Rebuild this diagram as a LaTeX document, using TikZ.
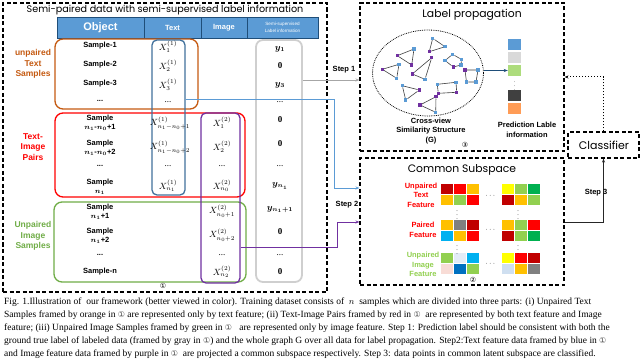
\documentclass[tikz,border=0pt]{standalone}
\usepackage{amsmath}
\usepackage{fontspec}
\setmainfont{Liberation Serif}
\newfontfamily\lsans{Liberation Sans}
\newfontfamily\pop{Poppins}
\newfontfamily\dv{DejaVu Sans}
\usetikzlibrary{shapes.geometric,arrows.meta}
\definecolor{hdrblue}{HTML}{5B9BD5}
\definecolor{hdrline}{HTML}{1F4E79}
\definecolor{oran}{HTML}{C55A11}
\definecolor{tblue}{HTML}{41719C}
\definecolor{ipurp}{HTML}{7030A0}
\definecolor{lgray}{HTML}{CFCFCF}
\definecolor{grn}{HTML}{70AD47}
\definecolor{lgrn}{HTML}{92D050}
\definecolor{lblue}{HTML}{5B9BD5}
\definecolor{cDR}{HTML}{C00000}
\definecolor{cR}{HTML}{FF0000}
\definecolor{cO}{HTML}{FFC000}
\definecolor{cLG}{HTML}{92D050}
\definecolor{cG}{HTML}{00B050}
\definecolor{cY}{HTML}{FFFF00}
\definecolor{cGy}{HTML}{808080}
\definecolor{cLB}{HTML}{00B0F0}
\definecolor{cB}{HTML}{0070C0}
\definecolor{cPB}{HTML}{E3ECF7}
\definecolor{cPk}{HTML}{F8DCD6}
\definecolor{cSB}{HTML}{CFDFF0}
\newcommand{\circnum}[1]{{\dv\fontsize{7}{7}\selectfont #1}}
\newcommand{\capcirc}[1]{{\dv\fontsize{8}{8}\selectfont\color{black!70} #1}}
\begin{document}
\begin{tikzpicture}[x=1pt,y=-1pt,
  dbox/.style={draw, line width=1.1pt, dash pattern=on 4pt off 2.5pt, inner sep=0pt},
  rbox/.style={draw, line width=1.3pt, rounded corners=8pt, inner sep=0pt},
  hcell/.style={draw=hdrline, fill=hdrblue, line width=0.8pt, inner sep=0pt, text=white, font=\lsans\bfseries, align=center},
  smp/.style={font=\lsans\bfseries\fontsize{7.5}{8.5}\selectfont, align=center, inner sep=0pt},
  mth/.style={font=\fontsize{9}{10}\selectfont, inner sep=0pt},
  side/.style={font=\lsans\bfseries\fontsize{8.5}{10.5}\selectfont, align=center, inner sep=0pt},
  stp/.style={font=\lsans\bfseries\fontsize{7.5}{8.5}\selectfont, inner sep=0pt},
  ttl/.style={font=\pop\fontsize{10.8}{12}\selectfont, inner sep=0pt},
  gpn/.style={rectangle, fill=ipurp, minimum size=3.2pt, inner sep=0pt},
  gbn/.style={rectangle, fill=lblue, minimum size=3.2pt, inner sep=0pt},
  ged/.style={draw=black!75, line width=0.6pt},
  sq/.style={minimum width=13pt, minimum height=11pt, inner sep=0pt},
  flab/.style={font=\lsans\bfseries\fontsize{7.5}{9.5}\selectfont, align=center, inner sep=0pt},
]
\useasboundingbox (0,0) rectangle (640,361);
\fill[white] (0,0) rectangle (640,361);

% ---------------- left panel ----------------
\node[dbox, minimum width=324pt, minimum height=289pt] (leftbox) at (165,147.5) {};
\node[font=\pop\fontsize{9.6}{11}\selectfont, inner sep=0pt] (lt) at (165,10) {Semi-paired data with semi-supervised label information};

\node[hcell, minimum width=87pt, minimum height=21pt, font=\lsans\bfseries\fontsize{11}{12}\selectfont] (hobj) at (100.5,27.5) {Object};
\node[hcell, minimum width=57pt, minimum height=21pt, font=\lsans\bfseries\fontsize{7.5}{8}\selectfont] (htxt) at (172.5,27.5) {Text};
\node[hcell, minimum width=46pt, minimum height=21pt, font=\lsans\bfseries\fontsize{7.5}{8}\selectfont] (himg) at (224,27.5) {Image};
\node[hcell, minimum width=71pt, minimum height=21pt, font=\lsans\fontsize{4.6}{7}\selectfont] (hlab) at (282.5,27.5) {Semi-supervised\\Label information};

% frames
\node[rbox, draw=oran, minimum width=143pt, minimum height=70pt] (obox) at (126.5,74) {};
\node[rbox, draw=cR, minimum width=190pt, minimum height=84pt] (rbx) at (150,155) {};
\node[rbox, draw=grn, minimum width=192pt, minimum height=80pt] (gbx) at (150,242) {};
\node[rbox, draw=tblue, minimum width=33pt, minimum height=155pt, rounded corners=5pt] (tbox) at (168.5,117.5) {};
\node[rbox, draw=ipurp, minimum width=39pt, minimum height=170pt, rounded corners=5pt] (pbox) at (220.5,198) {};
\node[rbox, draw=lgray, line width=1.8pt, minimum width=46pt, minimum height=242pt, rounded corners=7pt] (ybox) at (279,161) {};

% side labels
\node[side, text=oran] (s1l) at (33,64) {unpaired\\Text\\Samples};
\node[side, text=cR] (s2l) at (33,147) {Text-\\Image\\Pairs};
\node[side, text=grn] (s3l) at (33,236) {Unpaired\\Image\\Samples};

% object column
\node[smp] (o1) at (100,46) {Sample-1};
\node[smp] (o2) at (100,65) {Sample-2};
\node[smp] (o3) at (100,84) {Sample-3};
\node[smp] (o4) at (100,101) {...};
\node[smp] (o5) at (100,123) {Sample\\$\boldsymbol{n_1}$-$\boldsymbol{n_0}$+1};
\node[smp] (o6) at (100,148) {Sample\\$\boldsymbol{n_1}$-$\boldsymbol{n_0}$+2};
\node[smp] (o7) at (100,166) {...};
\node[smp] (o8) at (100,187) {Sample\\$\boldsymbol{n_1}$};
\node[smp] (o9) at (100,212) {Sample\\$\boldsymbol{n_1}$+1};
\node[smp] (o10) at (100,236) {Sample\\$\boldsymbol{n_1}$+2};
\node[smp] (o11) at (100,255) {...};
\node[smp] (o12) at (100,272) {Sample-n};

% text column
\node[mth] (t1) at (168,47) {$X_1^{(1)}$};
\node[mth] (t2) at (168,66) {$X_2^{(1)}$};
\node[mth] (t3) at (168,85) {$X_3^{(1)}$};
\node[mth] (t4) at (168,102) {...};
\node[mth] (t5) at (170,123) {$X_{n_1-n_0+1}^{(1)}$};
\node[mth] (t6) at (170,147) {$X_{n_1-n_0+2}^{(1)}$};
\node[mth] (t7) at (168,166) {...};
\node[mth] (t8) at (168,186) {$X_{n_1}^{(1)}$};

% image column
\node[mth] (i1) at (222,123) {$X_1^{(2)}$};
\node[mth] (i2) at (222,147) {$X_2^{(2)}$};
\node[mth] (i3) at (222,166) {...};
\node[mth] (i4) at (222,186) {$X_{n_0}^{(2)}$};
\node[mth] (i5) at (222,211) {$X_{n_0+1}^{(2)}$};
\node[mth] (i6) at (222,235) {$X_{n_0+2}^{(2)}$};
\node[mth] (i7) at (222,255) {...};
\node[mth] (i8) at (222,272) {$X_{n_2}^{(2)}$};

% label column
\node[mth] (y1) at (280,49) {$\boldsymbol{y_1}$};
\node[mth] (y2) at (280,66) {$\mathbf{0}$};
\node[mth] (y3) at (280,85) {$\boldsymbol{y_3}$};
\node[mth] (y4) at (280,102) {...};
\node[mth] (y5) at (280,120) {$\mathbf{0}$};
\node[mth] (y6) at (280,144) {$\mathbf{0}$};
\node[mth] (y7) at (280,166) {...};
\node[mth] (y8) at (280,186) {$\boldsymbol{y_{n_1}}$};
\node[mth] (y9) at (280,210) {$\boldsymbol{y_{n_1+1}}$};
\node[mth] (y10) at (280,232) {$\mathbf{0}$};
\node[mth] (y11) at (280,255) {...};
\node[mth] (y12) at (280,272) {$\mathbf{0}$};

\node[inner sep=0pt] (c1) at (163,286) {\circnum{①}};

% ---------------- label propagation ----------------
\node[dbox, minimum width=204pt, minimum height=148pt] (lp) at (462,77) {};
\node[ttl] (lpt) at (472,15) {Label propagation};
\node[ellipse, draw, densely dotted, line width=0.8pt, minimum width=111pt, minimum height=86pt, inner sep=0pt] (graph) at (428,73) {};

\node[gbn] (a1) at (432.7,38.3) {};
\node[gbn] (a2) at (445,46.7) {};
\node[gpn] (a3) at (429.3,51.7) {};
\draw[ged] (a1) -- (a2) -- (a3) -- (a1);
\node[gpn] (b1) at (397.3,55.7) {};
\node[gbn] (b2) at (414,49) {};
\node[gpn] (b3) at (411.7,65) {};
\draw[ged] (b1) -- (b2) -- (b3) -- (b1);
\node[gpn] (cc1) at (382.3,69.3) {};
\node[gbn] (cc2) at (399,64.3) {};
\node[gbn] (cc3) at (396.7,78.3) {};
\draw[ged] (cc1) -- (cc2) -- (cc3) -- (cc1);
\node[gpn] (d1) at (431.7,57.7) {};
\node[gpn] (d2) at (412.3,74) {};
\node[gbn] (d3) at (425,79.3) {};
\draw[ged] (d1) -- (d2) -- (d3) -- (d1);
\node[gbn] (e1) at (452.7,54.3) {};
\node[gbn] (e2) at (461.5,59.5) {};
\node[gbn] (e3) at (461,65) {};
\node[gpn] (e4) at (453.3,67) {};
\node[gbn] (e5) at (445,60.5) {};
\draw[ged] (e1) -- (e2) -- (e3) -- (e4) -- (e5) -- (e1);
\node[gpn] (f1) at (465,70) {};
\node[gbn] (f2) at (478,70) {};
\node[gbn] (f3) at (476,82) {};
\node[gbn] (f4) at (466.5,82) {};
\draw[ged] (f1) -- (f2) -- (f3) -- (f4) -- (f1);
\node[gbn] (g1) at (402.3,85.7) {};
\node[gpn] (g2) at (419.3,90) {};
\node[gbn] (g3) at (405.7,100) {};
\draw[ged] (g1) -- (g2) -- (g3) -- (g1);
\node[gbn] (h1) at (437.3,84.3) {};
\node[gbn] (h2) at (456,82.3) {};
\node[gpn] (h3) at (456.7,92.3) {};
\node[gpn] (h4) at (438.3,93.3) {};
\draw[ged] (h1) -- (h2) -- (h3) -- (h4) -- (h1);
\node[gpn] (k1) at (436,96.7) {};
\node[gpn] (k2) at (420,105) {};
\node[gbn] (k3) at (435.7,112.3) {};
\draw[ged] (k1) -- (k2) -- (k3) -- (k1);

\node[font=\lsans\bfseries\fontsize{7.5}{9.5}\selectfont, align=center, inner sep=0pt] (gtxt) at (431,131) {Cross-view\\Similarity Structure\\(G)};
\node[inner sep=0pt] (c3) at (465,145) {\circnum{③}};

\node[sq, fill=lblue] (sq1) at (514.5,44.5) {};
\node[sq, fill=black!15] (sq2) at (514.5,58) {};
\node[sq, fill=cLG!75] (sq3) at (514.5,70.5) {};
\node[inner sep=0pt, font=\fontsize{5}{5}\selectfont] (sqd) at (514.5,83) {$\vdots$};
\node[sq, fill=black!75] (sq4) at (514.5,95.5) {};
\node[sq, fill=orange!55!pink] (sq5) at (514.5,108.5) {};
\draw[-{Stealth[length=4pt]}, draw=hdrline, line width=1pt] (graph.east |- sq3.west) -- (sq3.west);
\node[font=\lsans\bfseries\fontsize{7.5}{9.5}\selectfont, align=center, inner sep=0pt] (pli) at (527,130) {Prediction Lable\\information};

% ---------------- common subspace ----------------
\node[dbox, minimum width=204pt, minimum height=127pt] (cs) at (462,221.5) {};
\node[ttl] (cst) at (462,170) {Common Subspace};
\node[flab, text=cR] (fl1) at (421,195) {Unpaired\\Text\\Feature};
\node[flab, text=cR] (fl2) at (423,230) {Paired\\Feature};
\node[flab, text=lgrn] (fl3) at (423,264.5) {Unpaired\\Image\\Feature};

\foreach \x/\y/\cA/\cB/\cC/\cD/\cE/\cF in {
  441/184/cDR/cR/cO/cO/cLG/cR,
  502/184/cY/cLG/cG/cDR/cO/cLG,
  441/219.5/cO/cGy/cDR/cLB/cO/cR,
  502/219.5/cO/cLG/cR/cDR/cLG/cG,
  441/253/cLG/cPB/cLB/cPk/cB/cLG,
  502/253/cY/cR/cDR/cSB/cO/cGy}{
  \fill[\cA] (\x,\y) rectangle ++(12.3,10.3);
  \fill[\cB] (\x+13,\y) rectangle ++(12.3,10.3);
  \fill[\cC] (\x+26,\y) rectangle ++(12.3,10.3);
  \fill[\cD] (\x,\y+11) rectangle ++(12.3,10.3);
  \fill[\cE] (\x+13,\y+11) rectangle ++(12.3,10.3);
  \fill[\cF] (\x+26,\y+11) rectangle ++(12.3,10.3);
}
\foreach \yy in {196,230,264}{\node[inner sep=0pt, font=\fontsize{7}{7}\selectfont] at (491,\yy) {$\cdots$};}
\foreach \yy in {212.5,247}{\node[inner sep=0pt, font=\fontsize{6}{6}\selectfont] at (457,\yy) {$\vdots$}; \node[inner sep=0pt, font=\fontsize{6}{6}\selectfont] at (518,\yy) {$\vdots$};}
\node[inner sep=0pt] (c2) at (473,280) {\circnum{②}};

% ---------------- classifier ----------------
\node[dbox, minimum width=71pt, minimum height=26pt] (cls) at (603.5,145) {};
\node[ttl, font=\pop\fontsize{11}{12}\selectfont] (clt) at (604,145.5) {Classifier};

% ---------------- connectors ----------------
\coordinate (k1a) at (0,80);
\draw[draw=black!35, line width=0.9pt, -{Stealth[length=4pt]}] (ybox.east |- k1a) -- (lp.west |- k1a);
\node[stp] (st1) at (344,70) {Step 1};

\coordinate (bt) at (334,99);
\coordinate (bb) at (334,188);
\draw[draw=lblue, line width=0.9pt, -{Stealth[length=4pt]}] (tbox.east |- bt) -- (bt) -- (bb) -- (cs.west |- bb);

\coordinate (pt) at (337,247);
\coordinate (pb) at (337,222);
\draw[draw=ipurp, line width=0.9pt, -{Stealth[length=4pt]}] (pbox.east |- pt) -- (pt) -- (pb) -- (cs.west |- pb);
\node[stp] (st2) at (347,205) {Step 2};

\coordinate (s3) at (603.5,222);
\draw[draw=black!85, line width=0.9pt, -{Stealth[length=4pt]}] (cs.east |- s3) -- (s3) -- (cls.south);
\node[stp] (st3) at (596,193) {Step 3};

\coordinate (dd) at (603.5,77);
\draw[line width=1pt, dotted, -{Stealth[length=4pt]}] (cls.north) -- (dd) -- (lp.east |- dd);

% ---------------- caption ----------------
\node[anchor=north west, align=left, inner sep=0pt, font=\fontsize{9.5}{13}\selectfont] (cap) at (4,298) {Fig. 1.Illustration of\ \ our framework (better viewed in color). Training dataset consists of\ \ $n$\ \ samples which are divided into three parts: (i) Unpaired Text\\
Samples framed by orange in \capcirc{①} are represented only by text feature; (ii) Text-Image Pairs framed by red in \capcirc{①}\ \ are represented by both text feature and Image\\
feature; (iii) Unpaired Image Samples framed by green in \capcirc{①}\ \ \ are represented only by image feature. Step 1: Prediction label should be consistent with both the\\
ground true label of labeled data (framed by gray in \capcirc{①}) and the whole graph G over all data for label propagation. Step2:Text feature data framed by blue in \capcirc{①}\\
and Image feature data framed by purple in \capcirc{①}\ \ are projected a common subspace respectively. Step 3: data points in common latent subspace are classified.};
\end{tikzpicture}
\end{document}
